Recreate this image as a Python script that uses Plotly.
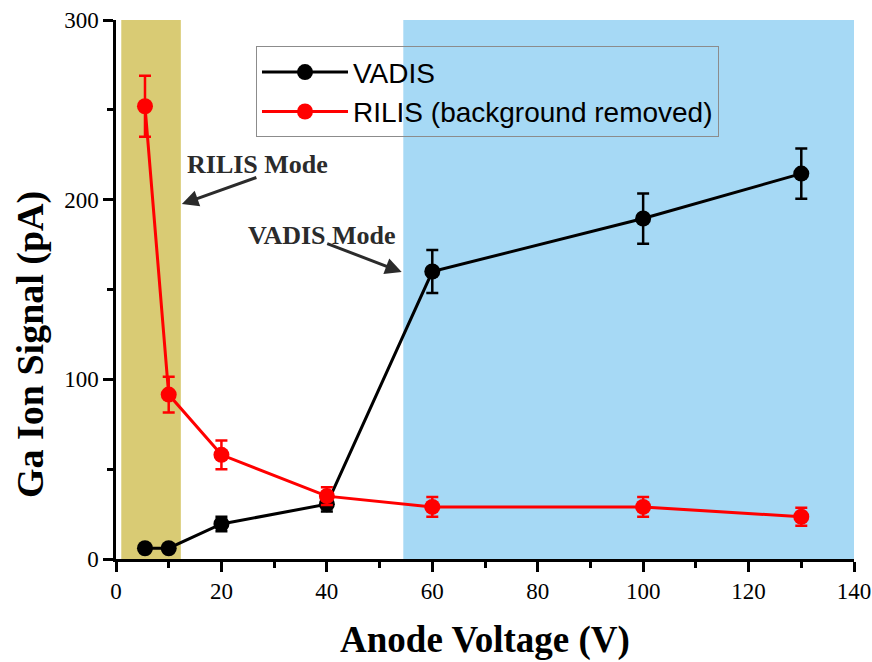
import plotly.graph_objects as go

# Data
voltage = [5.5, 10, 20, 40, 60, 100, 130]
vadis = [6, 6, 19.5, 30.5, 160, 189.5, 214.5]
vadis_err = [2, 2, 4, 4, 12, 14, 14]
rilis_x = [5.5, 10, 20, 40, 60, 100, 130]
rilis = [252, 91.5, 58, 35, 29, 29, 23.5]
rilis_err = [17, 10, 8, 5, 5.5, 5.5, 5]

rilis_band = [1, 12.3]
vadis_band = [54.5, 140]

x_ticks = [0, 20, 40, 60, 80, 100, 120, 140]
y_ticks = [0, 100, 200, 300]

fig = go.Figure()

fig.add_trace(go.Scatter(
    x=voltage, y=vadis, name="VADIS", mode="lines+markers",
    line=dict(color="black", width=3),
    marker=dict(color="black", size=16),
    error_y=dict(type="data", array=vadis_err, visible=True,
                 color="black", thickness=2.5, width=6),
))
fig.add_trace(go.Scatter(
    x=rilis_x, y=rilis, name="RILIS (background removed)", mode="lines+markers",
    line=dict(color="#ff0000", width=3),
    marker=dict(color="#ff0000", size=16),
    error_y=dict(type="data", array=rilis_err, visible=True,
                 color="#ff0000", thickness=2.5, width=6),
))

fig.add_shape(type="rect", xref="x", yref="y", x0=rilis_band[0], x1=rilis_band[1],
              y0=0, y1=300, fillcolor="#d9cb74", line=dict(width=0), layer="below")
fig.add_shape(type="rect", xref="x", yref="y", x0=vadis_band[0], x1=vadis_band[1],
              y0=0, y1=300, fillcolor="#a6d9f5", line=dict(width=0), layer="below")

ann_font = dict(family="Liberation Serif", size=26, color="#2b2b2b")
fig.add_annotation(x=26.9, y=219.8, text="<b>RILIS Mode</b>", showarrow=False, font=ann_font)
fig.add_annotation(x=39.0, y=180.3, text="<b>VADIS Mode</b>", showarrow=False, font=ann_font)
fig.add_annotation(x=12.5, y=197.6, text="", showarrow=True, ax=76, ay=-27,
                   arrowhead=2, arrowsize=1.1, arrowwidth=3, arrowcolor="#2b2b2b")
fig.add_annotation(x=54.2, y=159.7, text="", showarrow=True, ax=-76, ay=-29,
                   arrowhead=2, arrowsize=1.1, arrowwidth=3, arrowcolor="#2b2b2b")

fig.add_annotation(xref="paper", yref="paper", x=0.5, y=-0.150, text="<b>Anode Voltage (V)</b>",
                   showarrow=False, font=dict(family="Liberation Serif", size=37, color="black"),
                   yanchor="middle")
fig.add_annotation(xref="paper", yref="paper", x=-0.1165, y=0.397, text="<b>Ga Ion Signal (pA)</b>",
                   showarrow=False, font=dict(family="Liberation Serif", size=38, color="black"),
                   textangle=-90, xanchor="center", yanchor="middle")

axis_common = dict(
    showline=True, linecolor="black", linewidth=2.5, mirror=False,
    ticks="outside", ticklen=10, tickwidth=2.5, tickcolor="black",
    showgrid=False, zeroline=False, automargin=False, ticklabeloverflow="allow",
    tickfont=dict(family="Liberation Serif", size=23, color="black"),
)
fig.update_xaxes(range=[0, 140], tickvals=x_ticks,
                 minor=dict(dtick=10, ticklen=6, tickwidth=2.5, tickcolor="black", ticks="outside", showgrid=False),
                 **axis_common)
fig.update_yaxes(range=[0, 300], tickvals=y_ticks,
                 minor=dict(dtick=50, ticklen=6, tickwidth=2.5, tickcolor="black", ticks="outside", showgrid=False),
                 **axis_common)

fig.update_layout(
    width=872, height=662,
    margin=dict(l=116, r=18, t=20, b=103),
    plot_bgcolor="white", paper_bgcolor="white",
    legend=dict(x=0.1897, y=0.951, xanchor="left", yanchor="top",
                bgcolor="rgba(0,0,0,0)", bordercolor="#8c8c8c", borderwidth=1,
                font=dict(family="Liberation Sans", size=28, color="black"),
                itemwidth=86),
    showlegend=True,
)

fig.write_html(
    "out.html",
    config={"displayModeBar": False},
    post_script="document.body.style.margin='0';document.body.style.overflow='hidden';",
)
